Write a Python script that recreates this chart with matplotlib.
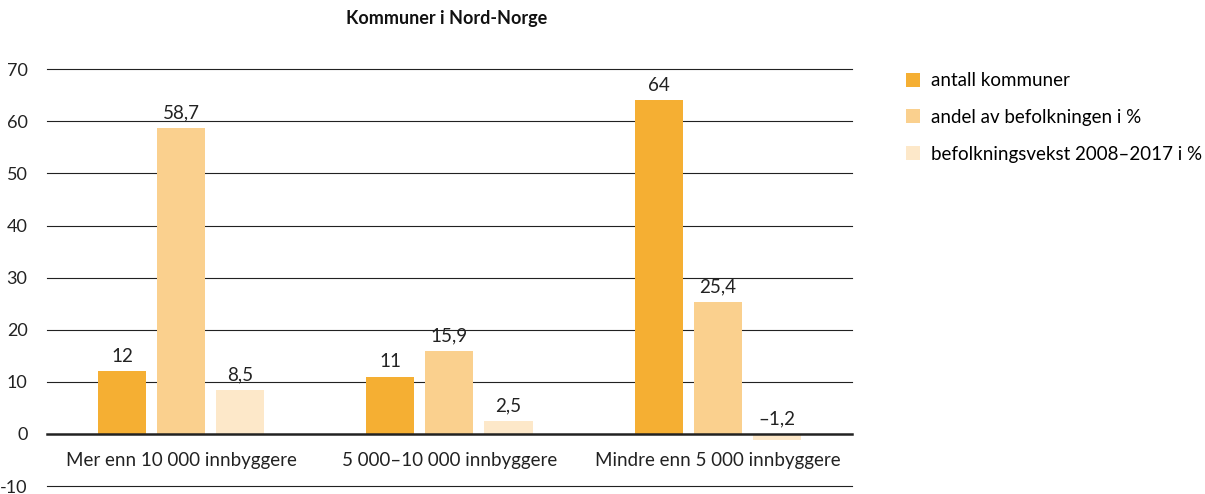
import numpy as np
import matplotlib.pyplot as plt

plt.rcParams['font.family'] = ['Lato', 'DejaVu Sans']

# data
categories = ["Mer enn 10 000 innbyggere", "5 000–10 000 innbyggere", "Mindre enn 5 000 innbyggere"]
series_names = ["antall kommuner", "andel av befolkningen i %", "befolkningsvekst 2008–2017 i %"]
antall = [12, 11, 64]
andel = [58.7, 15.9, 25.4]
vekst = [8.5, 2.5, -1.2]
colors = ["#F5AF33", "#FAD08E", "#FDE8C9"]
yticks = [-10, 0, 10, 20, 30, 40, 50, 60, 70]

fig = plt.figure(figsize=(12.05, 4.94), dpi=100)
ax = fig.add_axes([0.039, 0.016, 0.668, 0.844])

x = np.arange(len(categories))
width = 0.179
step = 0.22

for i, (vals, col, name) in enumerate(zip([antall, andel, vekst], colors, series_names)):
    pos = x + (i - 1) * step
    ax.bar(pos, vals, width, color=col, label=name, zorder=2)
    for p, v in zip(pos, vals):
        txt = f"{v:g}".replace(".", ",").replace("-", "–")
        y = max(v, 0) + 1.2
        ax.text(p, y, txt, ha="center", va="bottom", fontsize=13.5, color="#222222")

# gridlines
for t in yticks:
    if t == 0:
        ax.axhline(t, color="#222222", lw=1.8, zorder=3, clip_on=False)
    else:
        ax.axhline(t, color="#222222", lw=0.8, zorder=1, clip_on=False)

# category labels
for xi, c in zip(x, categories):
    ax.text(xi, -5, c, ha="center", va="center", fontsize=13.5, color="#222222")

ax.set_xlim(-0.5, 2.5)
ax.set_ylim(-10, 70)
ax.set_yticks(yticks)
ax.set_yticklabels([str(t) for t in yticks], fontsize=13, color="#222222")
ax.tick_params(axis="y", length=0, pad=14)
ax.set_xticks([])
for s in ax.spines.values():
    s.set_visible(False)

fig.text(0.371, 0.963, "Kommuner i Nord-Norge", ha="center", va="center",
         fontsize=13, fontweight="bold", color="#111111")

leg = fig.legend(loc="upper left", bbox_to_anchor=(0.738, 0.888), frameon=False,
                 fontsize=13.5, handlelength=0.75, handleheight=0.75,
                 labelspacing=1.05, handletextpad=0.55)

fig.savefig("out.png", dpi=100)
